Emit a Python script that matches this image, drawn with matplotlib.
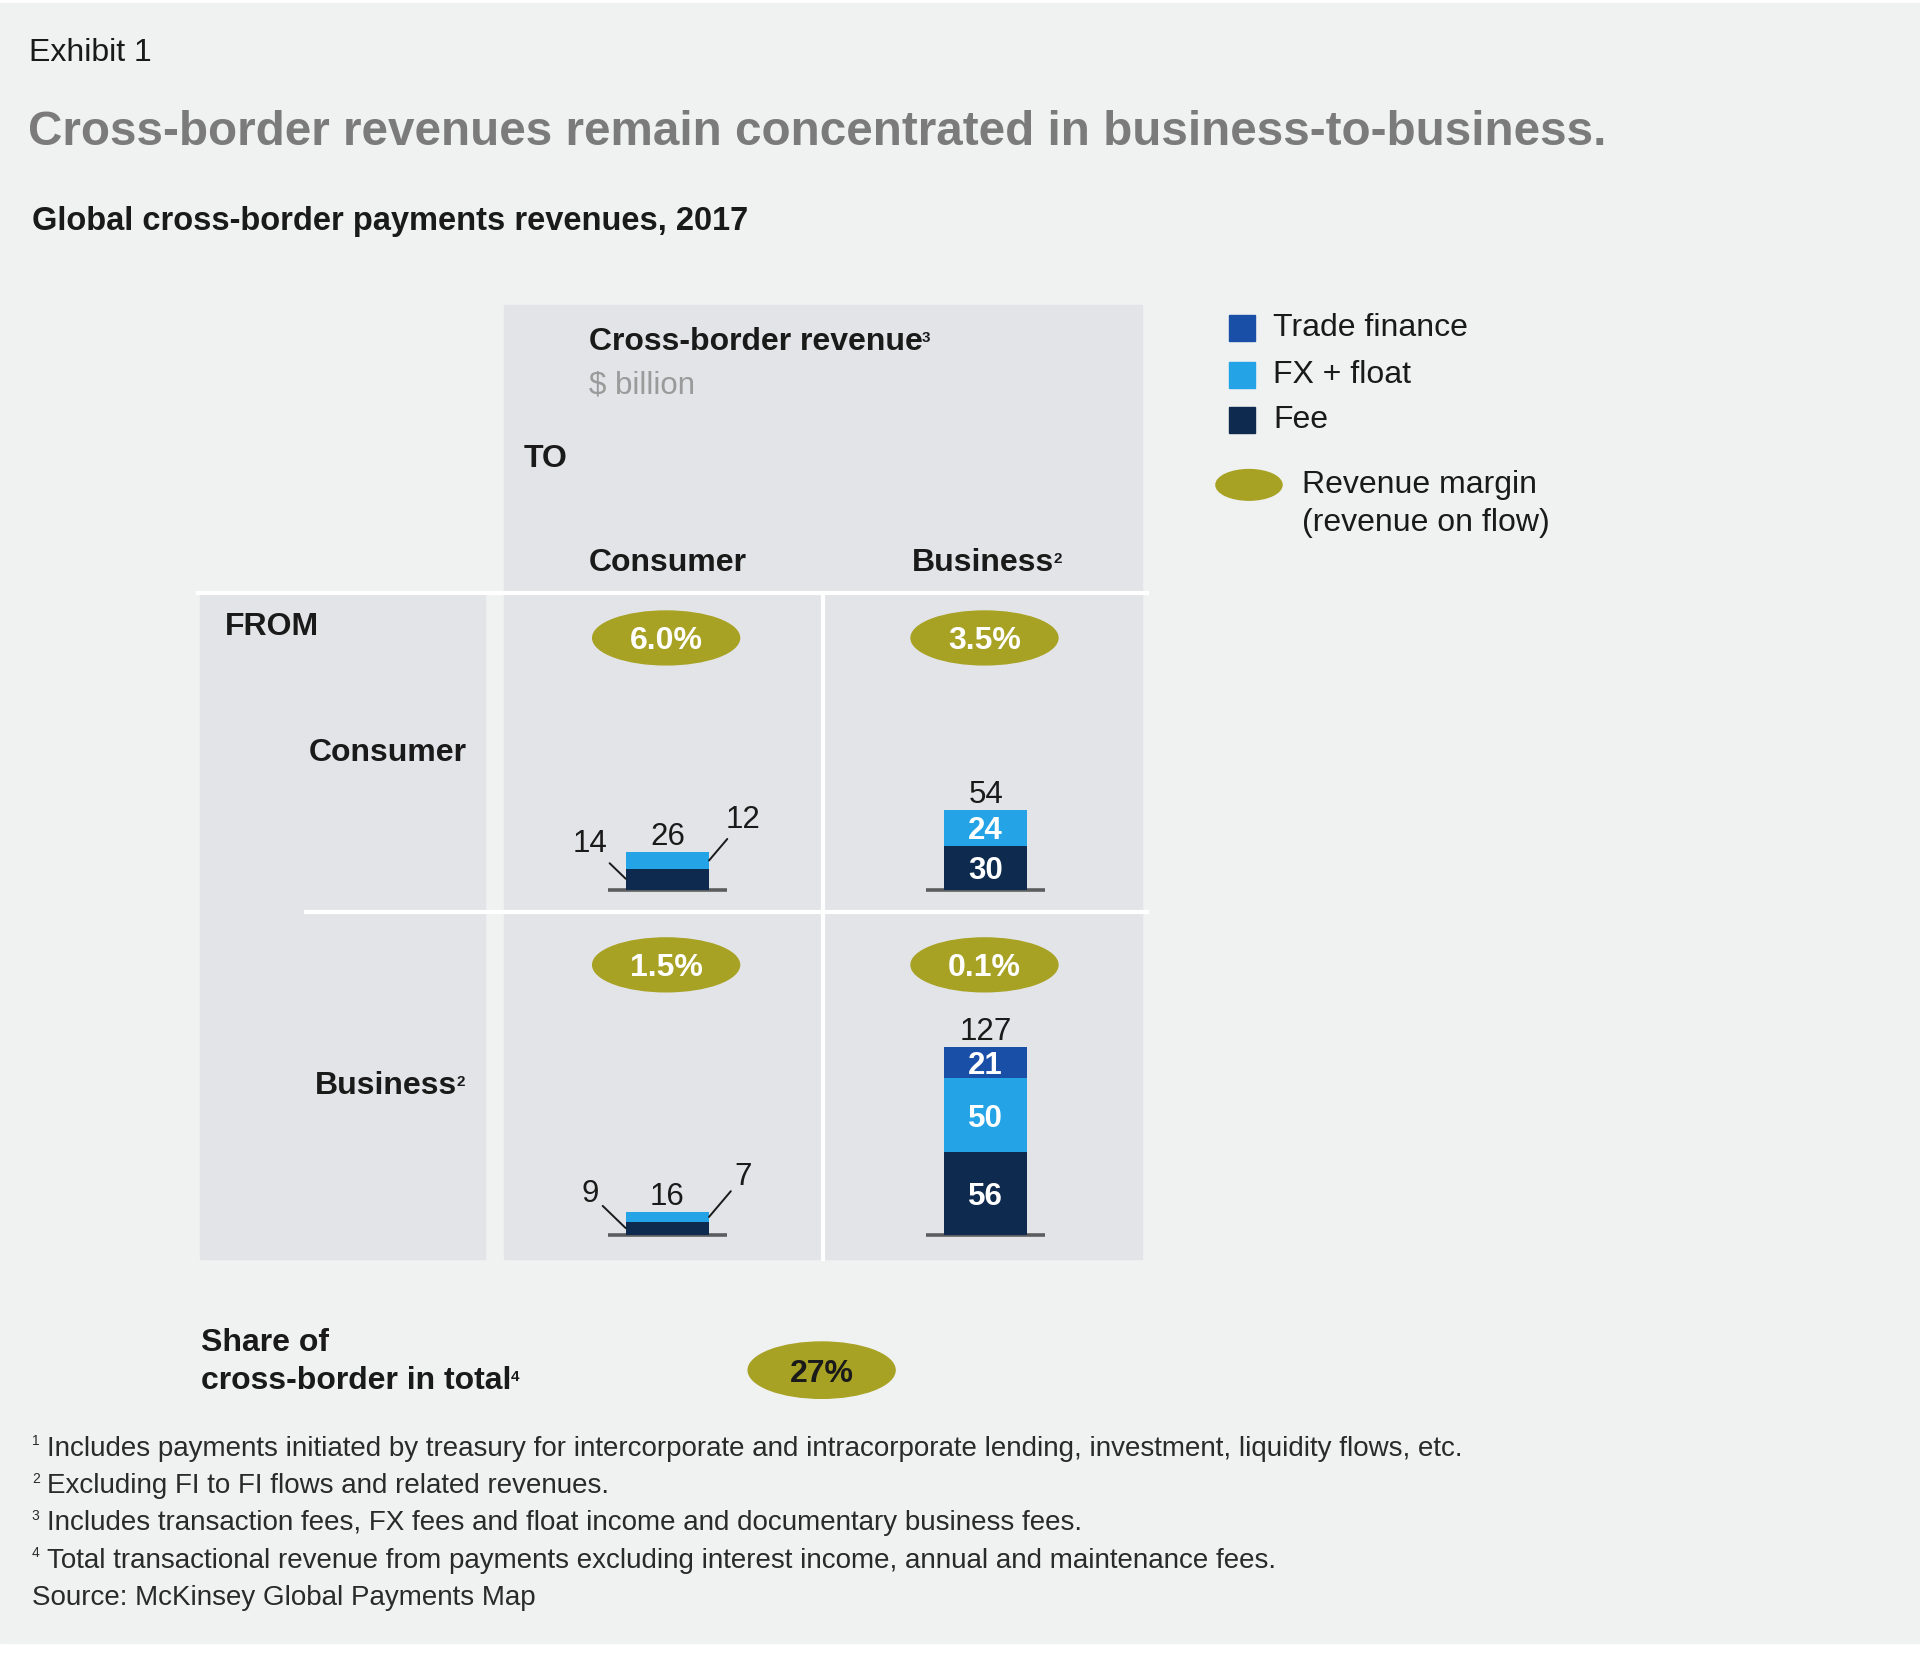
import matplotlib
matplotlib.use("Agg")
import matplotlib.pyplot as plt
from matplotlib.patches import Rectangle, Ellipse

plt.rcParams['font.family'] = ['Liberation Sans', 'DejaVu Sans']

###############################################################################
# Data ($ billion)
senders = ["Consumer", "Business"]        # FROM (rows)
sender_notes = ["", "2"]
receivers = ["Consumer", "Business"]      # TO (columns)
receiver_notes = ["", "2"]
segment_names = ["Trade finance", "FX + float", "Fee"]
fee = [[14, 30], [9, 56]]
fx_float = [[12, 24], [7, 50]]
trade_finance = [[0, 0], [0, 21]]
margins = [["6.0%", "3.5%"], ["1.5%", "0.1%"]]
share_of_total = "27%"

footnote_marks = ["1", "2", "3", "4", ""]
footnotes = [
    "Includes payments initiated by treasury for intercorporate and intracorporate lending, investment, liquidity flows, etc.",
    "Excluding FI to FI flows and related revenues.",
    "Includes transaction fees, FX fees and float income and documentary business fees.",
    "Total transactional revenue from payments excluding interest income, annual and maintenance fees.",
    "Source: McKinsey Global Payments Map",
]

###############################################################################
# Colours
bg = '#f0f1f1'
panel = '#e3e4e7'
olive = '#a8a224'
c_tf = '#1a4fa8'
c_fx = '#24a4e6'
c_fee = '#0e2a4e'
c_text = '#1a1a1a'

# layout canvas (reference units) -> figure
W, H = 1568, 1350
K = 0.8816          # layout px -> points
PX_PER_UNIT = 1.21  # bar scale, layout px per $ billion
FS = 23             # main label size

fig = plt.figure(figsize=(19.2, 16.53), dpi=100)
fig.patch.set_facecolor('white')
ax = fig.add_axes([0, 0, 1, 1])
ax.set_xlim(0, W)
ax.set_ylim(H, 0)
ax.axis('off')


def sup(txt, mark, size=11, **kw):
    """Small superscript glued to the top-right of a text artist."""
    if mark:
        ax.annotate(mark, xy=(1, 1), xycoords=txt, xytext=(-0.5, -3),
                    textcoords='offset points', fontsize=size, va='top',
                    ha='left', color=kw.get('color', c_text),
                    fontweight=kw.get('fontweight', 'bold'))


ax.add_patch(Rectangle((0, 2.5), W, 1339.5, color=bg, zorder=0))

# Headings
ax.text(24, 43, "Exhibit 1", fontsize=23, color=c_text, va='center')
ax.text(23, 108, "Cross-border revenues remain concentrated in business-to-business.",
        fontsize=34.3, fontweight='bold', color='#7b7b7b', va='center')
ax.text(26, 181, "Global cross-border payments revenues, 2017",
        fontsize=23.5, fontweight='bold', color=c_text, va='center')

# Matrix panels
ax.add_patch(Rectangle((412, 249), 521, 236, color=panel, zorder=1))
ax.add_patch(Rectangle((163, 484), 233, 544, color=panel, zorder=1))
ax.add_patch(Rectangle((412, 484), 521, 544, color=panel, zorder=1))
ax.plot([162, 937], [484, 484], color='white', lw=3, zorder=2)
ax.plot([250, 937], [745, 745], color='white', lw=3, zorder=2)
ax.plot([672, 672], [484, 1028], color='white', lw=3, zorder=2)

t = ax.text(481, 279, "Cross-border revenue", fontsize=FS, fontweight='bold',
            color=c_text, va='center')
sup(t, "3")
ax.text(481, 315, "$ billion", fontsize=22.5, color='#9a9a9a', va='center')
ax.text(428, 375, "TO", fontsize=FS, fontweight='bold', color=c_text, va='center')
ax.text(184, 512, "FROM", fontsize=FS, fontweight='bold', color=c_text, va='center')

col_cx = [545, 805]
col_label_x = [545, 803]
row_label_right = [381, 373]
row_base = [727, 1009]
row_label_y = [615, 887]
ellipse_y = [521, 788]

for c, name in enumerate(receivers):
    t = ax.text(col_label_x[c], 460, name, fontsize=FS, fontweight='bold',
                color=c_text, ha='center', va='center')
    sup(t, receiver_notes[c])
for r, name in enumerate(senders):
    t = ax.text(row_label_right[r], row_label_y[r], name, fontsize=FS,
                fontweight='bold', color=c_text, ha='right', va='center')
    sup(t, sender_notes[r])

# Cells: margin ellipse + stacked bar
for r in range(2):
    for c in range(2):
        ax.add_patch(Ellipse((col_cx[c] - 1, ellipse_y[r]), 120, 44,
                             color=olive, zorder=3))
        ax.text(col_cx[c] - 1, ellipse_y[r], margins[r][c], fontsize=FS,
                fontweight='bold', color='white', ha='center',
                va='center_baseline', zorder=4)

        bax = fig.add_axes([(col_cx[c] - 50) / W, 1 - row_base[r] / H,
                            100 / W, 170 / H])
        bax.set_xlim(-0.5, 0.5)
        bax.set_ylim(0, 170 / PX_PER_UNIT)
        bax.axis('off')

        vals = [fee[r][c], fx_float[r][c], trade_finance[r][c]]
        cols = [c_fee, c_fx, c_tf]
        bottom = 0
        inside = all(v >= 20 for v in vals if v > 0)
        for v, col in zip(vals, cols):
            if v <= 0:
                continue
            bax.bar(0, v, width=0.68, bottom=bottom, color=col, zorder=2)
            if inside:
                bax.text(0, bottom + v / 2, str(v), fontsize=22.5,
                         fontweight='bold', color='white', ha='center',
                         va='center_baseline', zorder=3)
            bottom += v
        bax.plot([-0.485, 0.485], [0, 0], color='#5c5d5f', lw=2.6,
                 solid_capstyle='butt', clip_on=False, zorder=1)

        total = sum(vals)
        bax.annotate(str(total), xy=(0, total), xytext=(0, 5),
                     textcoords='offset points', ha='center', va='baseline',
                     fontsize=22.5, color=c_text)
        if not inside:
            leader = dict(arrowstyle='-', color=c_text, lw=1.4,
                          shrinkA=1, shrinkB=0)
            bax.annotate(str(fee[r][c]), xy=(-0.34, fee[r][c] * 0.55),
                         xytext=(-29 * K, 28 * K), textcoords='offset points',
                         ha='center', va='center', fontsize=22.5, color=c_text,
                         arrowprops=leader, annotation_clip=False)
            bax.annotate(str(fx_float[r][c]),
                         xy=(0.34, fee[r][c] + fx_float[r][c] / 2),
                         xytext=(28 * K, 33 * K), textcoords='offset points',
                         ha='center', va='center', fontsize=22.5, color=c_text,
                         arrowprops=leader, annotation_clip=False)

# Legend
legend_y = [268, 306, 343]
for name, col, y in zip(segment_names, [c_tf, c_fx, c_fee], legend_y):
    ax.add_patch(Rectangle((1004, y - 10.5), 21, 21, color=col, zorder=3))
    ax.text(1040, y, name, fontsize=FS, color=c_text, va='center')
ax.add_patch(Ellipse((1020, 396), 54, 25, color=olive, zorder=3))
ax.text(1063, 396, "Revenue margin", fontsize=FS, color=c_text, va='center')
ax.text(1063, 427, "(revenue on flow)", fontsize=FS, color=c_text, va='center')

# Share of cross-border in total
ax.text(164, 1097, "Share of", fontsize=FS, fontweight='bold', color=c_text,
        va='center')
t = ax.text(164, 1128, "cross-border in total", fontsize=FS, fontweight='bold',
            color=c_text, va='center')
sup(t, "4")
ax.add_patch(Ellipse((671, 1119), 120, 46, color=olive, zorder=3))
ax.text(671, 1119, share_of_total, fontsize=FS, fontweight='bold',
        color=c_text, ha='center', va='center_baseline', zorder=4)

# Footnotes
for i, (mark, note) in enumerate(zip(footnote_marks, footnotes)):
    y = 1183 + i * 30.5
    if mark:
        ax.text(26, y - 6, mark, fontsize=10, color='#2a2a2a', va='center')
        ax.text(38, y, note, fontsize=20, color='#2a2a2a', va='center')
    else:
        ax.text(26, y, note, fontsize=20, color='#2a2a2a', va='center')

fig.savefig("out.png", dpi=100, facecolor=fig.get_facecolor())
